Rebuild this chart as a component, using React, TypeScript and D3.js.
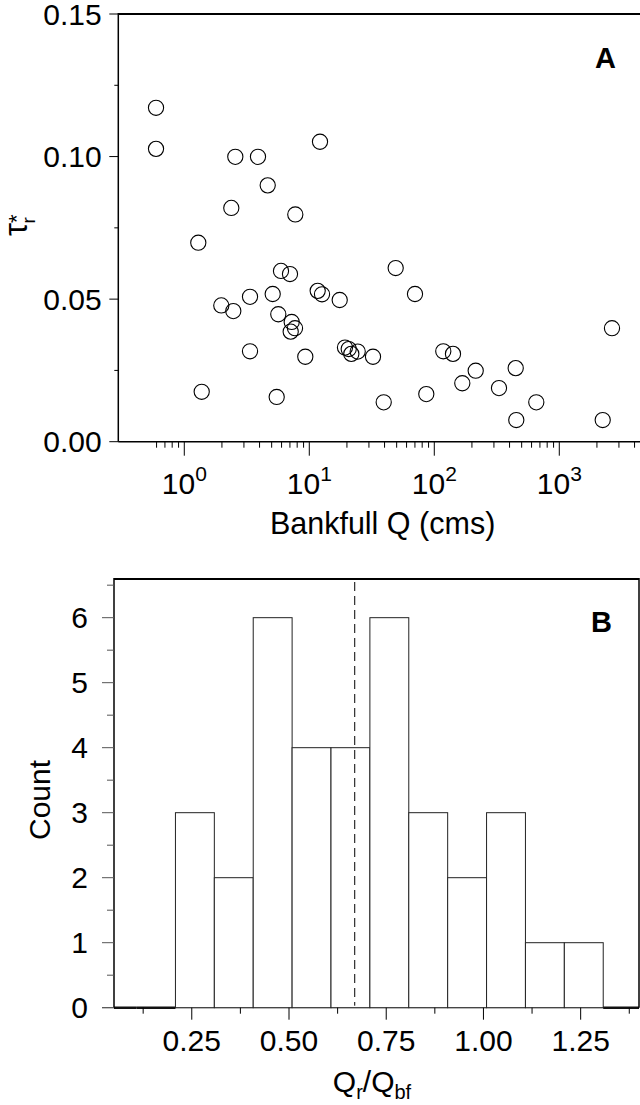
import React from 'react';
import * as d3 from 'd3';

// Panel A data: bankfull discharge (cms) vs tau*_r
const bankfullQ = [0.594, 0.594, 2.559, 3.886, 12.18, 4.648, 2.377, 7.727, 1.294,
  5.937, 7.008, 49.1, 3.355, 1.977, 2.466, 5.096, 11.67, 12.64, 17.51, 5.649, 7.231, 7.685, 7.099,
  3.355, 9.29, 19.3, 20.67, 21.68, 24.39, 32.33, 1.378, 5.485, 39.38,
  70.08, 118.0, 141.1, 214.4, 447.9, 167.5, 329.3, 86.3, 654.6, 452.9, 2225, 2640];
const tauStar = [0.1171, 0.1027, 0.0999, 0.0999, 0.1052, 0.0899, 0.0820, 0.0797, 0.0698,
  0.0599, 0.0588, 0.0609, 0.0508, 0.0478, 0.0458, 0.0518, 0.0529, 0.0517, 0.0497, 0.0447, 0.0420, 0.0398, 0.0386,
  0.0317, 0.0298, 0.0330, 0.0325, 0.0308, 0.0316, 0.0298, 0.0175, 0.0157, 0.0138,
  0.0518, 0.0317, 0.0308, 0.0249, 0.0258, 0.0205, 0.0188, 0.0167, 0.0138, 0.0076, 0.0076, 0.0398];
const xMajorA = [1, 10, 100, 1000];
const xExpA = ['0', '1', '2', '3'];
const xMinorA = [0.6, 0.7, 0.8, 0.9, 2, 3, 4, 5, 6, 7, 8, 9, 20, 30, 40, 50, 60, 70, 80, 90,
  200, 300, 400, 500, 600, 700, 800, 900, 2000, 3000, 4000, 5000];
const yMajorA = [0, 0.05, 0.1, 0.15];
const yMajorALabels = ['0.00', '0.05', '0.10', '0.15'];
const yMinorA = [0.025, 0.075, 0.125];

// Panel B data: histogram of Qr/Qbf
const binEdges = [0.008, 0.108, 0.208, 0.308, 0.408, 0.508, 0.608, 0.708, 0.808, 0.908, 1.008, 1.108, 1.208, 1.308, 1.408];
const binCounts = [0, 0, 3, 2, 6, 4, 4, 6, 3, 2, 3, 1, 1, 0];
const meanRatio = 0.669;
const xMajorB = [0.25, 0.5, 0.75, 1.0, 1.25];
const xMajorBLabels = ['0.25', '0.50', '0.75', '1.00', '1.25'];
const xMinorB = [0.125, 0.375, 0.625, 0.875, 1.125, 1.375];
const yMajorB = [0, 1, 2, 3, 4, 5, 6];
const yMinorB = [0.5, 1.5, 2.5, 3.5, 4.5, 5.5, 6.5];

const FONT = 'Liberation Sans, Arial, Helvetica, sans-serif';

export default function App() {
  // Panel A scales
  const xA = d3.scaleLog().domain([0.2965, 6392]).range([118.3, 660]);
  const yA = d3.scaleLinear().domain([0, 0.15]).range([441.7, 14]);
  // Panel B scales
  const xB = d3.scaleLinear().domain([0.05, 1.4]).range([114, 639]);
  const yB = d3.scaleLinear().domain([0, 6.595]).range([1007.7, 579]);

  const leftA = xA.range()[0];
  const bottomA = yA(0);
  const topA = yA(0.15);
  const leftB = xB.range()[0];
  const rightB = xB.range()[1];
  const bottomB = yB(0);
  const topB = yB.range()[1];

  const bins = binCounts.map((c, i) => ({ x0: binEdges[i], x1: binEdges[i + 1], c }));

  return (
    <svg width={640} height={1105} style={{ position: 'absolute', left: 0, top: 0, background: '#fff' }}
      fontFamily={FONT}>
      <defs>
        <clipPath id="clipB">
          <rect x={leftB} y={topB - 2} width={rightB - leftB} height={bottomB - topB + 4} />
        </clipPath>
      </defs>
      <rect x={0} y={0} width={640} height={1105} fill="#fff" />

      {/* ===== Panel A ===== */}
      {bankfullQ.map((q, i) => (
        <circle key={i} cx={xA(q)} cy={yA(tauStar[i])} r={7.6} fill="none" stroke="#000" strokeWidth={1.1} />
      ))}
      {/* frame */}
      <line x1={leftA} x2={700} y1={topA} y2={topA} stroke="#000" strokeWidth={2} />
      <line x1={leftA} x2={leftA} y1={topA - 1} y2={bottomA} stroke="#000" strokeWidth={1.5} />
      <line x1={leftA} x2={700} y1={bottomA} y2={bottomA} stroke="#000" strokeWidth={1.5} />
      {/* y ticks */}
      {yMajorA.map((v, i) => (
        <g key={'ya' + i}>
          <line x1={leftA - 9} x2={leftA} y1={yA(v)} y2={yA(v)} stroke="#000" strokeWidth={1} />
          <text x={101.7} y={yA(v) + 10.5} fontSize={30} textAnchor="end">{yMajorALabels[i]}</text>
        </g>
      ))}
      {yMinorA.map((v, i) => (
        <line key={'yam' + i} x1={leftA - 4} x2={leftA} y1={yA(v)} y2={yA(v)} stroke="#000" strokeWidth={1} />
      ))}
      {/* x ticks */}
      {xMajorA.map((v, i) => (
        <g key={'xa' + i}>
          <line x1={xA(v)} x2={xA(v)} y1={bottomA} y2={bottomA + 14} stroke="#000" strokeWidth={1} />
          <text x={xA(v)} y={494} fontSize={30} textAnchor="middle">
            10<tspan fontSize={21} dy={-13}>{xExpA[i]}</tspan>
          </text>
        </g>
      ))}
      {xMinorA.map((v, i) => (
        <line key={'xam' + i} x1={xA(v)} x2={xA(v)} y1={bottomA} y2={bottomA + 6} stroke="#000" strokeWidth={1} />
      ))}
      <text x={382.6} y={534} fontSize={30.5} textAnchor="middle">Bankfull Q (cms)</text>
      <text transform="translate(27,236) rotate(-90)" fontSize={33}>
        τ<tspan fontSize={22} dy={-3}>*</tspan><tspan fontSize={19} dy={11} dx={-9}>r</tspan>
      </text>
      <text x={616} y={68} fontSize={29} fontWeight="bold" textAnchor="end">A</text>

      {/* ===== Panel B ===== */}
      <line x1={leftB - 12} x2={rightB} y1={bottomB} y2={bottomB} stroke="#555" strokeWidth={1} />
      <g clipPath="url(#clipB)">
        {bins.map((b, i) => b.c === 0 ? (
          <line key={'b' + i} x1={xB(b.x0)} x2={xB(b.x1)} y1={bottomB} y2={bottomB} stroke="#111" strokeWidth={2.4} />
        ) : (
          <rect key={'b' + i} x={xB(b.x0)} y={yB(b.c)} width={xB(b.x1) - xB(b.x0)} height={yB(0) - yB(b.c)}
            fill="#fff" stroke="#222" strokeWidth={1} />
        ))}
      </g>
      <line x1={xB(meanRatio)} x2={xB(meanRatio)} y1={topB + 3} y2={bottomB - 2} stroke="#000" strokeWidth={1}
        strokeDasharray="9,5" />
      {/* frame */}
      <line x1={leftB} x2={rightB} y1={topB} y2={topB} stroke="#000" strokeWidth={2} />
      <line x1={leftB} x2={leftB} y1={topB - 1} y2={bottomB} stroke="#000" strokeWidth={1.5} />
      <line x1={rightB} x2={rightB} y1={topB - 1} y2={bottomB} stroke="#000" strokeWidth={1.5} />
      {/* y ticks */}
      {yMajorB.map((v, i) => (
        <g key={'yb' + i}>
          <line x1={leftB - 12} x2={leftB} y1={yB(v)} y2={yB(v)} stroke="#555" strokeWidth={1} />
          <text x={88} y={yB(v) + 10.5} fontSize={30} textAnchor="end">{String(v)}</text>
        </g>
      ))}
      {yMinorB.map((v, i) => (
        <line key={'ybm' + i} x1={leftB - 7} x2={leftB} y1={yB(v)} y2={yB(v)} stroke="#555" strokeWidth={1} />
      ))}
      {/* x ticks */}
      {xMajorB.map((v, i) => (
        <g key={'xb' + i}>
          <line x1={xB(v)} x2={xB(v)} y1={bottomB} y2={bottomB + 12} stroke="#000" strokeWidth={1} />
          <text x={xB(v)} y={1051} fontSize={30} textAnchor="middle">{xMajorBLabels[i]}</text>
        </g>
      ))}
      {xMinorB.map((v, i) => (
        <line key={'xbm' + i} x1={xB(v)} x2={xB(v)} y1={bottomB} y2={bottomB + 6} stroke="#000" strokeWidth={1} />
      ))}
      <text x={372} y={1092} fontSize={30} textAnchor="middle">
        Q<tspan fontSize={20} dy={7}>r</tspan><tspan fontSize={30} dy={-7}>/Q</tspan><tspan fontSize={20} dy={7}>bf</tspan>
      </text>
      <text transform="translate(50,800) rotate(-90)" fontSize={30} textAnchor="middle">Count</text>
      <text x={612} y={632} fontSize={29} fontWeight="bold" textAnchor="end">B</text>
    </svg>
  );
}
